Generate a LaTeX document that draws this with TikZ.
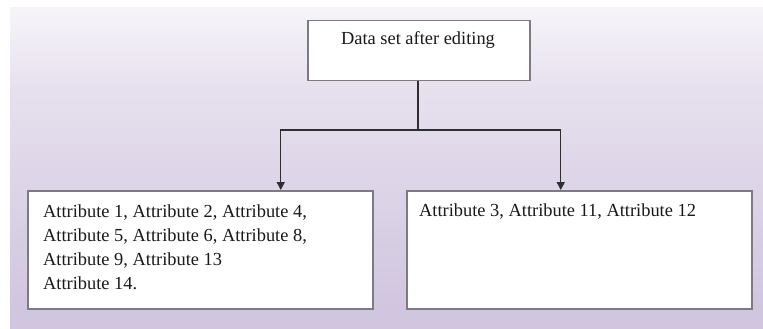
\documentclass[tikz,border=0pt]{standalone}
\usepackage{fontspec}
\setmainfont{Liberation Serif}
\usetikzlibrary{arrows.meta}
\definecolor{lav}{RGB}{202,189,218}
\definecolor{lavmid}{RGB}{230,224,238}
\definecolor{boxline}{RGB}{125,122,132}
\definecolor{arrowc}{RGB}{45,45,50}
\pgfdeclareverticalshading{bgshade}{100bp}{
  color(0bp)=(lav); color(30bp)=(lav!85!white); color(62bp)=(lavmid); color(82bp)=(white); color(100bp)=(white)}
\tikzset{
  box/.style={draw=boxline, line width=1.5pt, fill=white, rectangle, inner sep=0pt, anchor=north west},
  lbl/.style={font=\fontsize{18.4}{24}\selectfont, text=black!90, anchor=base west, inner sep=0pt, align=left},
  conn/.style={draw=arrowc, line width=1.4pt},
  arr/.style={conn, -{Triangle[length=8pt,width=8pt]}}
}
\begin{document}
\begin{tikzpicture}[x=1pt,y=-1pt]
\useasboundingbox (0,0) rectangle (763,329);
\fill[white] (0,0) rectangle (763,329);
\shade[shading=bgshade] (10,8) rectangle (763,329);
% boxes
\node[box, minimum width=222pt, minimum height=60pt] (top) at (307,20) {};
\node[box, minimum width=345pt, minimum height=118pt] (left) at (27,190) {};
\node[box, minimum width=345pt, minimum height=118pt] (right) at (406,190) {};
% texts
\node[lbl, anchor=base] (toptext) at (418,45) {Data set after editing};
\node[lbl] (lefttext) at (43,289) {Attribute 1, Attribute 2, Attribute 4,\\Attribute 5, Attribute 6, Attribute 8,\\Attribute 9, Attribute 13\\Attribute 14.};
\node[lbl] (righttext) at (419,216) {Attribute 3, Attribute 11, Attribute 12};
% connectors
\coordinate (split) at (418,130);
\draw[conn] (top.south -| split) -- (split);
\draw[arr] (split) -| ([xshift=80.5pt]left.north);
\draw[arr] (split) -| ([xshift=-18.5pt]right.north);
\end{tikzpicture}
\end{document}
